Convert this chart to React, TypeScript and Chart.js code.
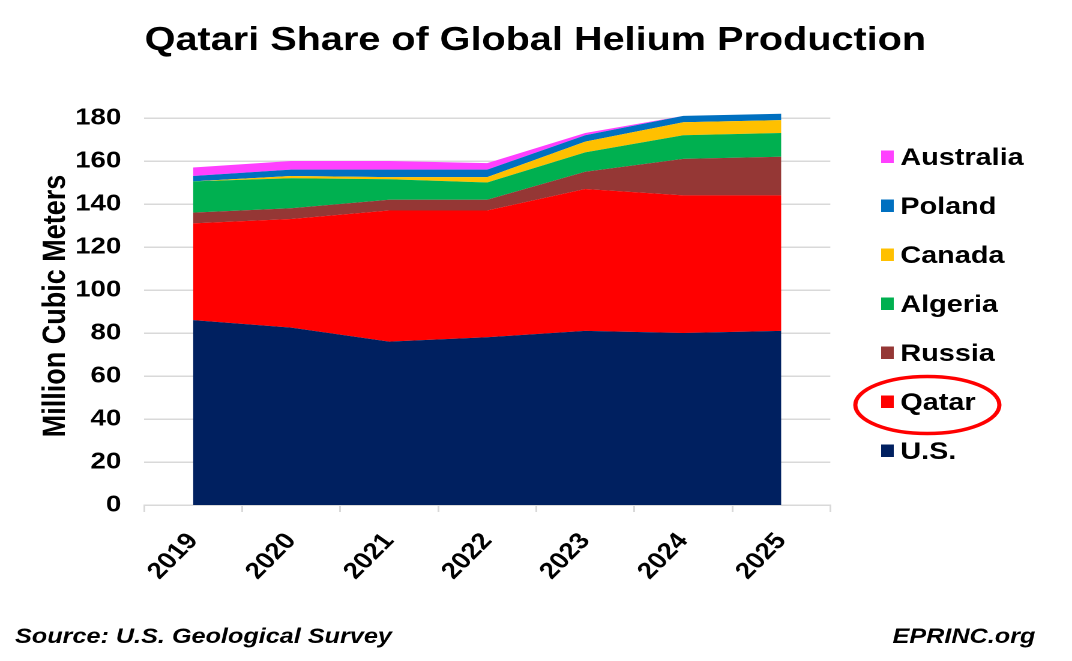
import { useEffect, useRef } from 'react';
import { Chart, registerables } from 'chart.js';

Chart.register(...registerables);

// the reference text is drawn wide, so the canvas is laid out narrower and stretched
const OUT_W = 1072;
const OUT_H = 661;
const STRETCH = 1.2;
const W = Math.round(OUT_W / STRETCH);

const FONT = "'Liberation Sans', Arial, sans-serif";

const years = ['2019', '2020', '2021', '2022', '2023', '2024', '2025'];

const us = [86, 82.5, 76, 78, 81, 80, 81];
const qatar = [45, 50.5, 61, 59, 66, 64, 63];
const russia = [5, 5, 5, 5, 8, 17, 18];
const algeria = [14.5, 14, 9.5, 8, 9, 11, 11];
const canada = [0, 1, 1, 2.5, 5, 6, 6];
const poland = [2.5, 3, 3.5, 3.5, 3, 3, 3];
const australia = [4, 4, 4, 3, 1, 0, 0];

const seriesNames = ['U.S.', 'Qatar', 'Russia', 'Algeria', 'Canada', 'Poland', 'Australia'];
const seriesValues = [us, qatar, russia, algeria, canada, poland, australia];
const seriesColors = ['#002060', '#FF0000', '#953735', '#00B050', '#FFC000', '#0070C0', '#FF40FF'];

const yTicks = [0, 20, 40, 60, 80, 100, 120, 140, 160, 180];
// a little headroom above the top tick so the 2024-25 stack is not cut off
const Y_MAX = 184;
const PX_PER_UNIT = (505 - 118) / 180;

const decor = {
  id: 'decor',
  afterDraw(chart: Chart) {
    const ctx = chart.ctx;
    ctx.save();
    ctx.fillStyle = '#000';

    // title
    ctx.font = `bold 33px ${FONT}`;
    ctx.textAlign = 'center';
    ctx.textBaseline = 'alphabetic';
    ctx.fillText('Qatari Share of Global Helium Production', 446, 50);

    // y axis title
    ctx.save();
    ctx.translate(54, 306);
    ctx.rotate(-Math.PI / 2);
    ctx.font = `bold 27px ${FONT}`;
    ctx.fillText('Million Cubic Meters', 0, 0);
    ctx.restore();

    // legend, top to bottom in reverse stacking order
    const ds = chart.data.datasets;
    ctx.font = `bold 24px ${FONT}`;
    ctx.textAlign = 'left';
    let qatarY = 0;
    for (let i = ds.length - 1, row = 0; i >= 0; i--, row++) {
      const cy = 156.5 + row * 49;
      ctx.fillStyle = ds[i].backgroundColor as string;
      ctx.fillRect(734, cy - 6, 10.5, 12.5);
      ctx.fillStyle = '#000';
      ctx.fillText(ds[i].label as string, 750, cy + 8.6);
      if (ds[i].label === 'Qatar') qatarY = cy;
    }

    // red ring around Qatar
    ctx.beginPath();
    ctx.ellipse(772.5, qatarY + 3.5, 60, 28.5, 0, 0, Math.PI * 2);
    ctx.strokeStyle = '#FF0000';
    ctx.lineWidth = 3.5;
    ctx.stroke();

    // footer
    ctx.font = `italic bold 21px ${FONT}`;
    ctx.textAlign = 'left';
    ctx.fillText('Source: U.S. Geological Survey', 12.5, 643);
    ctx.textAlign = 'right';
    ctx.fillText('EPRINC.org', 862.5, 643);
    ctx.restore();
  },
};

export default function App() {
  const canvasRef = useRef<HTMLCanvasElement>(null);
  const chartRef = useRef<Chart | null>(null);

  useEffect(() => {
    if (!canvasRef.current) return;
    if (chartRef.current) chartRef.current.destroy();
    chartRef.current = new Chart(canvasRef.current, {
      type: 'line',
      data: {
        labels: years,
        datasets: seriesNames.map((name, i) => ({
          label: name,
          data: seriesValues[i],
          backgroundColor: seriesColors[i],
          borderColor: seriesColors[i],
          borderWidth: 0,
          pointRadius: 0,
          tension: 0,
          fill: i === 0 ? 'origin' : '-1',
        })),
      },
      options: {
        responsive: false,
        animation: false,
        devicePixelRatio: 2,
        layout: {
          padding: {
            left: 0,
            right: W - 830 / STRETCH,
            top: 118 - (Y_MAX - 180) * PX_PER_UNIT,
            bottom: 0,
          },
        },
        plugins: {
          legend: { display: false },
          title: { display: false },
          tooltip: { enabled: false },
        },
        scales: {
          x: {
            offset: true,
            afterFit: (scale: any) => {
              scale.height = OUT_H - 505;
            },
            grid: {
              offset: true,
              drawOnChartArea: false,
              drawTicks: true,
              tickLength: 7,
              color: '#d9d9d9',
              lineWidth: 1.5,
            },
            border: { display: true, color: '#d9d9d9', width: 1.5 },
            ticks: {
              minRotation: 50,
              maxRotation: 50,
              padding: 16,
              color: '#000',
              font: { family: FONT, size: 23, weight: 'bold' },
            },
          },
          y: {
            stacked: true,
            min: 0,
            max: Y_MAX,
            afterFit: (scale: any) => {
              scale.width = 144 / STRETCH;
            },
            afterBuildTicks: (scale: any) => {
              scale.ticks = yTicks.map((v) => ({ value: v }));
            },
            grid: { color: '#d9d9d9', lineWidth: 1.5, drawTicks: false },
            border: { display: false },
            ticks: {
              padding: 19,
              color: '#000',
              font: { family: FONT, size: 23, weight: 'bold' },
            },
          },
        },
      },
      plugins: [decor],
    });
    return () => {
      chartRef.current?.destroy();
      chartRef.current = null;
    };
  }, []);

  return (
    <div style={{ position: 'fixed', left: 0, top: 0, width: OUT_W, height: OUT_H, background: '#fff' }}>
      <canvas
        ref={canvasRef}
        width={W}
        height={OUT_H}
        style={{ display: 'block', width: OUT_W + 'px', height: OUT_H + 'px' }}
      />
    </div>
  );
}
